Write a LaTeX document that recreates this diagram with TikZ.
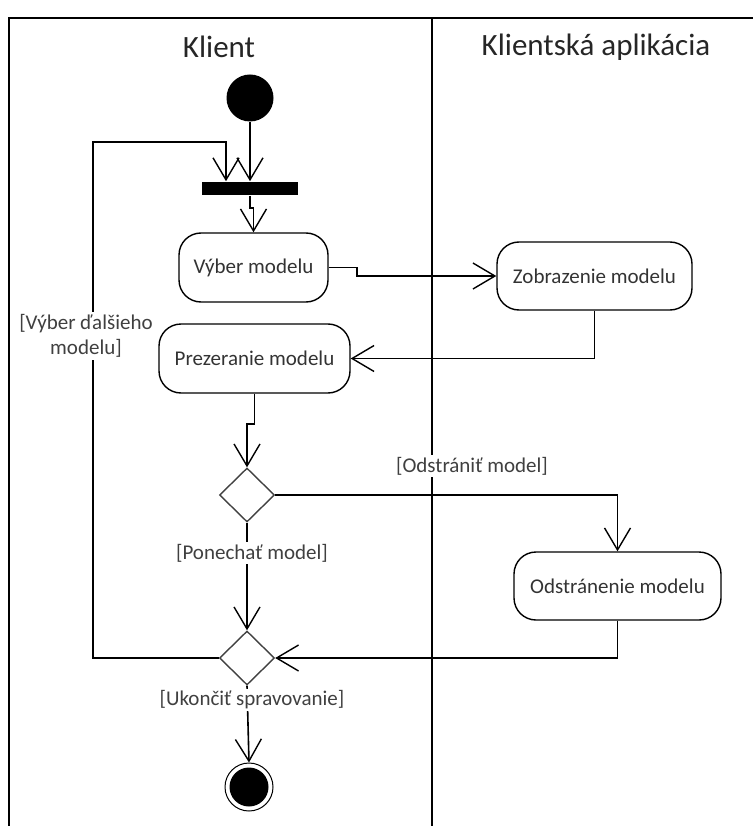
\documentclass[tikz,border=0pt]{standalone}
\usepackage{fontspec}
\setmainfont{Carlito}
\usetikzlibrary{arrows.meta,shapes.geometric}

\begin{document}
\begin{tikzpicture}[x=1pt,y=-1pt,
  line width=1.6pt,
  arr/.style={-{Straight Barb[length=22pt,width=26pt,line width=1.4pt]}},
  lane/.style={line width=1.8pt},
  title/.style={font=\fontsize{31}{36}\selectfont, text=black!85},
  action/.style={draw, line width=1.4pt, rounded corners=22pt, inner sep=0pt,
    font=\fontsize{21}{25}\selectfont, text=black!80},
  decision/.style={diamond, draw=black!75, line width=1.4pt, inner sep=0pt,
    minimum width=55pt, minimum height=54pt},
  guard/.style={fill=white, inner sep=2pt, align=center,
    font=\fontsize{21}{25}\selectfont, text=black!75}]

\useasboundingbox (0,0) rectangle (753,826);

% swimlanes
\draw[lane] (9,826) -- (9,18) -- (753,18);
\draw[lane] (432,18) -- (432,826);
\node[title] (laneA) at (219,47) {Klient};
\node[title] (laneB) at (596,47) {Klientská aplikácia};

% start, fork bar, final
\node[circle, fill=black, inner sep=0pt, minimum size=47pt] (start) at (250,98) {};
\node[rectangle, fill=black, inner sep=0pt, minimum width=96pt, minimum height=13pt] (bar) at (250,188.5) {};
\node[circle, draw, fill=white, line width=1pt, inner sep=0pt, minimum size=48pt] (final) at (249,787) {};
\fill[black] (final.center) circle (19.5pt);

% actions
\node[action, minimum width=149pt, minimum height=69pt] (vyber) at (253.5,267.5) {Výber modelu};
\node[action, minimum width=195pt, minimum height=68pt] (zobr) at (594.5,276) {Zobrazenie modelu};
\node[action, minimum width=191pt, minimum height=69pt] (prez) at (254.5,358.5) {Prezeranie modelu};
\node[action, minimum width=207pt, minimum height=68pt] (odst) at (617.5,586) {Odstránenie modelu};

% decisions
\node[decision] (d1) at (247,495) {};
\node[decision] (d2) at (247,658) {};

% loop-back route
\coordinate (loopcorner) at (93,142);
\coordinate (barin) at (226,142);

% flows
\draw[arr] (start.south) -- (bar.north -| start.south);
\draw[arr] (d2.west) -| (loopcorner) -| (bar.north -| barin);
\draw[arr] (bar.south -| start.south) -- ++(0,12) -| (vyber.north);
\draw[arr] (vyber.east) -- ++(28,0) |- (zobr.west);
\draw[arr] (zobr.south) |- (prez.east);
\draw[arr] (prez.south) -- ++(0,30) -| (d1.north);
\draw[arr] (d1.east) -| (odst.north);
\draw[arr] (d1.south) -- (d2.north);
\draw[arr] (odst.south) |- (d2.east);
\draw[arr] (d2.south) -- (final.north);

% guards
\node[guard] (gnext) at (86,336) {[Výber ďalšieho\\modelu]};
\node[guard] (gdel) at (472,466) {[Odstrániť model]};
\node[guard] (gkeep) at (252,553) {[Ponechať model]};
\node[guard] (gend) at (252,700) {[Ukončiť spravovanie]};

\end{tikzpicture}
\end{document}
